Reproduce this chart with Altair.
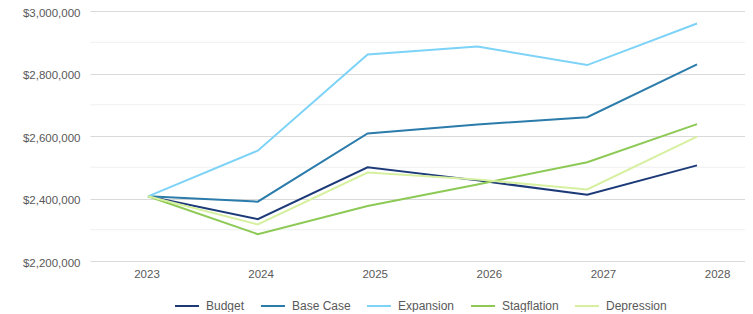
import altair as alt
import pandas as pd

years = [2023, 2024, 2025, 2026, 2027, 2028]
series = ["Budget", "Base Case", "Expansion", "Stagflation", "Depression"]
colors = ["#1c3a78", "#2b7bab", "#7dd3f7", "#8dc955", "#d6f0a0"]

budget = [2407000, 2334000, 2500000, 2458000, 2412000, 2506000]
base_case = [2407000, 2390000, 2608000, 2637000, 2660000, 2829000]
expansion = [2407000, 2553000, 2861000, 2886000, 2827000, 2960000]
stagflation = [2407000, 2286000, 2376000, 2445000, 2516000, 2638000]
depression = [2407000, 2317000, 2483000, 2461000, 2429000, 2598000]

major_ticks = [2200000, 2400000, 2600000, 2800000, 3000000]
minor_ticks = [2300000, 2500000, 2700000, 2900000]

values = [budget, base_case, expansion, stagflation, depression]
rows = []
for name, vals in zip(series, values):
    for y, v in zip(years, vals):
        rows.append({"Year": y, "Value": v, "Scenario": name})
df = pd.DataFrame(rows)

W, H = 655, 250

ydom = alt.Scale(domain=[2200000, 3000000], nice=False, zero=False)
yaxis = alt.Axis(
    values=major_ticks,
    format="$,.0f",
    title=None,
    domain=False,
    ticks=False,
    labelPadding=10,
    labelOffset=2,
    labelFontSize=11.5,
    labelColor="#595959",
    labelFont="Liberation Sans",
    gridColor="#d9d9d9",
    gridWidth=1,
)

minor = alt.Chart(pd.DataFrame({"Value": minor_ticks})).mark_rule(
    color="#efefef", strokeWidth=1
).encode(
    x=alt.value(0),
    x2=alt.value(W),
    y=alt.Y("Value:Q", scale=ydom, axis=yaxis),
)

lines = alt.Chart(df).mark_line(strokeWidth=2).encode(
    x=alt.X("Year:Q", scale=alt.Scale(domain=[2022.472, 2028.437], nice=False, zero=False), axis=None),
    y=alt.Y("Value:Q", scale=ydom, axis=yaxis),
    color=alt.Color(
        "Scenario:N",
        scale=alt.Scale(domain=series, range=colors),
        sort=series,
        legend=alt.Legend(
            title=None,
            orient="none",
            direction="horizontal",
            legendX=84,
            legendY=282,
            symbolType="stroke",
            symbolSize=576,
            symbolStrokeWidth=2,
            labelOffset=6,
            columnPadding=12,
            labelFontSize=12,
            labelColor="#595959",
            labelFont="Liberation Sans",
        ),
    ),
)

xlabels = alt.Chart(pd.DataFrame({"Year": years})).mark_point(opacity=0).encode(
    x=alt.X(
        "Year:Q",
        scale=alt.Scale(domain=[2022.505, 2028.245], nice=False, zero=False),
        axis=alt.Axis(
            values=years,
            format="d",
            title=None,
            domain=False,
            ticks=False,
            grid=False,
            labelPadding=7,
            labelFontSize=11.5,
            labelColor="#595959",
            labelFont="Liberation Sans",
        ),
    ),
    y=alt.value(0),
)

chart = (
    alt.layer(minor, lines, xlabels)
    .resolve_scale(x="independent")
    .properties(
        width=W,
        height=H,
        background="white",
        autosize=alt.AutoSizeParams(type="none"),
        padding={"left": 82, "top": 3, "right": 0, "bottom": 51},
    )
    .configure_view(strokeWidth=0, stroke="transparent")
    .configure_axis(domain=False)
    .configure_axisX(grid=False)
)

chart.save("out.html", embed_options={"renderer": "svg", "actions": False})
